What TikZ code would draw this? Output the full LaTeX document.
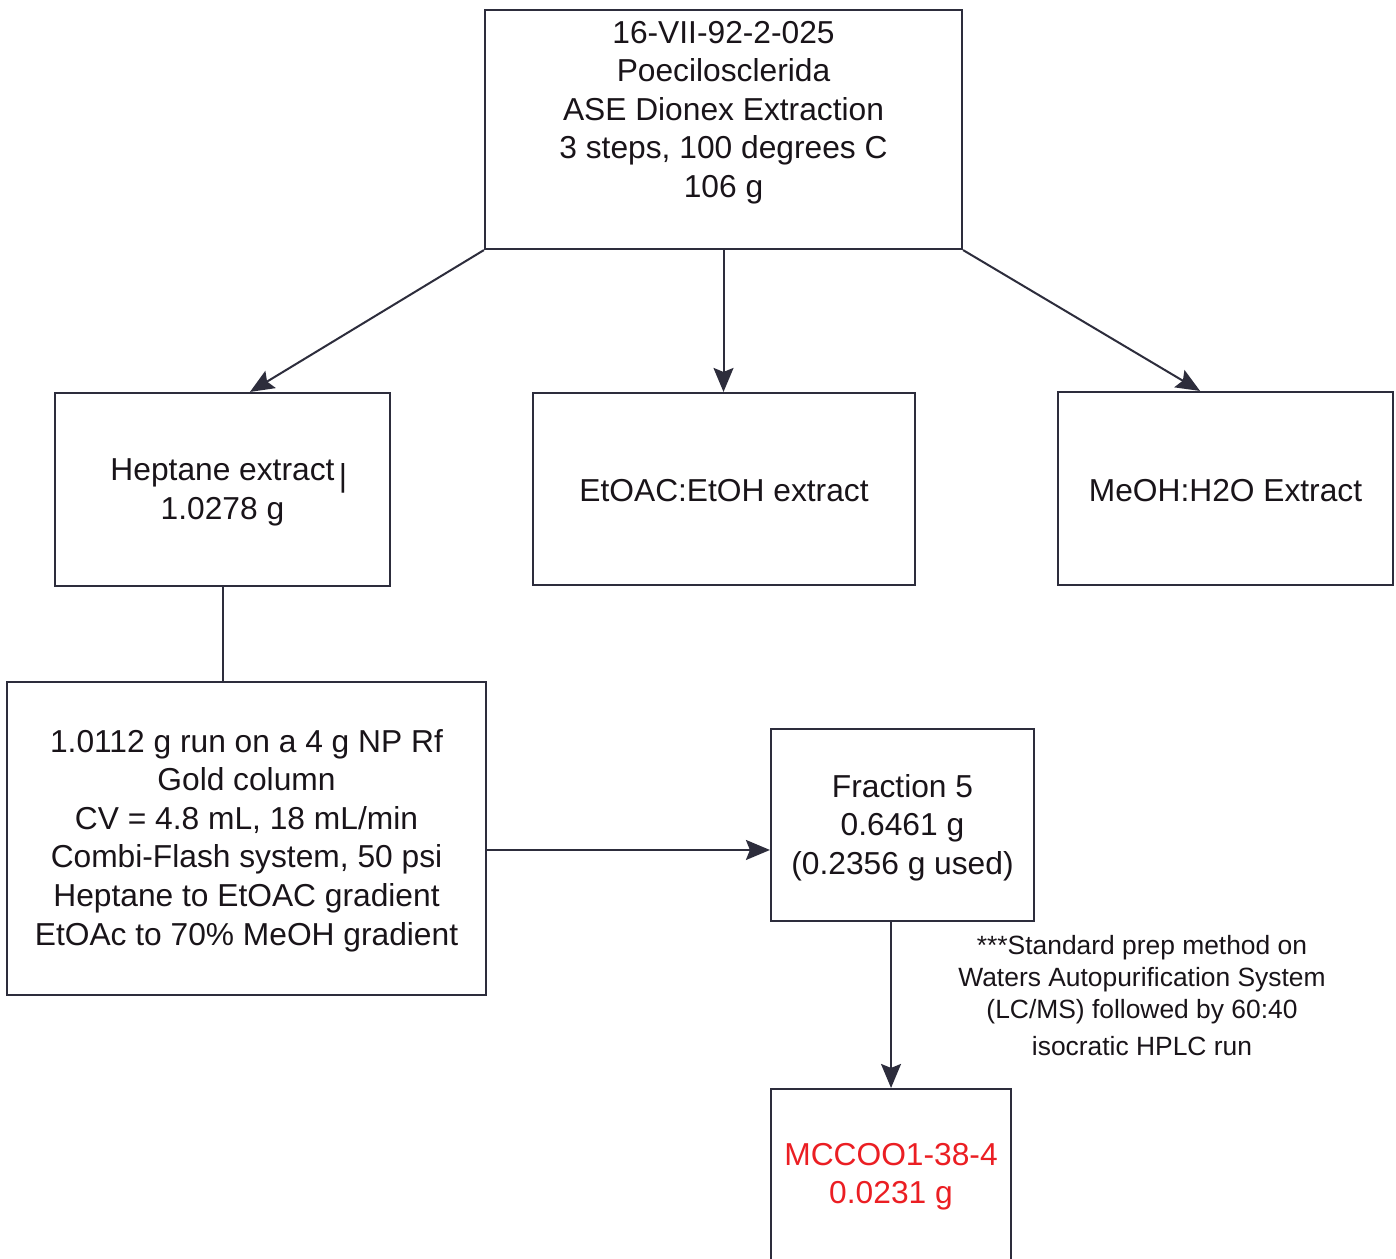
\documentclass[tikz,border=0pt]{standalone}
\usepackage{fontspec}
\setmainfont{Liberation Sans}
\usetikzlibrary{arrows.meta}
\definecolor{ink}{RGB}{45,45,60}
\definecolor{txtc}{RGB}{25,20,25}
\definecolor{redtxt}{RGB}{235,30,35}
\begin{document}
\begin{tikzpicture}[x=0.75pt,y=-0.75pt,
  box/.style={draw=ink, line width=1.6pt, inner sep=0pt},
  txt/.style={font=\fontsize{23.8}{28.9}\selectfont, align=center, text=txtc, inner sep=0pt},
  notetxt/.style={font=\fontsize{19.8}{24}\selectfont, align=center, text=txtc, inner sep=0pt},
  conn/.style={draw=ink, line width=1.5pt},
  arr/.style={conn, -{Stealth[length=18pt,width=15pt,inset=3pt]}}]
\useasboundingbox (0,0) rectangle (1396,1258);
\clip (0,0) rectangle (1396,1258);
\fill[white] (0,0) rectangle (1396,1258);
% boxes
\node[box, minimum width=357.75pt, minimum height=179.25pt] (top) at (723.5,129.5) {};
\node[box, minimum width=251.25pt, minimum height=144.75pt] (hep) at (222.5,489.5) {};
\node[box, minimum width=286.5pt, minimum height=144pt] (et) at (724,489) {};
\node[box, minimum width=251.25pt, minimum height=144.75pt] (me) at (1225.5,488.5) {};
\node[box, minimum width=359.25pt, minimum height=234.75pt] (col) at (246.5,838.5) {};
\node[box, minimum width=197.25pt, minimum height=144pt] (frac) at (902.5,825) {};
\node[box, minimum width=180pt, minimum height=129.75pt] (red) at (891,1175.5) {};
% texts
\node[txt] (toptxt) at (723.5,112.5) {16-VII-92-2-025\\Poecilosclerida\\ASE Dionex Extraction\\3 steps, 100 degrees C\\106 g};
\node[txt] (heptxt) at (222.5,492.5) {Heptane extract\\1.0278 g};
\node[txt] (cursor) at (343,478) {|};
\node[txt] (ettxt) at (724,490.5) {EtOAC:EtOH extract};
\node[txt] (metxt) at (1225.5,490.5) {MeOH:H2O Extract};
\node[txt] (coltxt) at (246.5,840.5) {1.0112 g run on a 4 g NP Rf\\Gold column\\CV = 4.8 mL, 18 mL/min\\Combi-Flash system, 50 psi\\Heptane to EtOAC gradient\\EtOAc to 70\% MeOH gradient};
\node[txt] (fractxt) at (902.5,827.5) {Fraction 5\\0.6461 g\\(0.2356 g used)};
\node[txt, text=redtxt] (redtxt) at (891,1176.5) {MCCOO1-38-4\\0.0231 g};
\node[notetxt] (note) at (1142,995.5) {***Standard prep method on\\Waters Autopurification System\\(LC/MS) followed by 60:40\\[4pt]isocratic HPLC run};
% connectors
\draw[arr] (top.south west) -- ([xshift=20.6pt]hep.north);
\draw[arr] (top.south) -- (top.south |- et.north);
\draw[arr] (top.south east) -- ([xshift=-19.1pt]me.north);
\draw[conn] (hep.south) -- (hep.south |- col.north);
\draw[arr] ([yshift=-8.6pt]col.east) coordinate (c1) -- (c1 -| frac.west);
\draw[arr] ([xshift=-8.6pt]frac.south) coordinate (c2) -- (c2 |- red.north);
\end{tikzpicture}
\end{document}
